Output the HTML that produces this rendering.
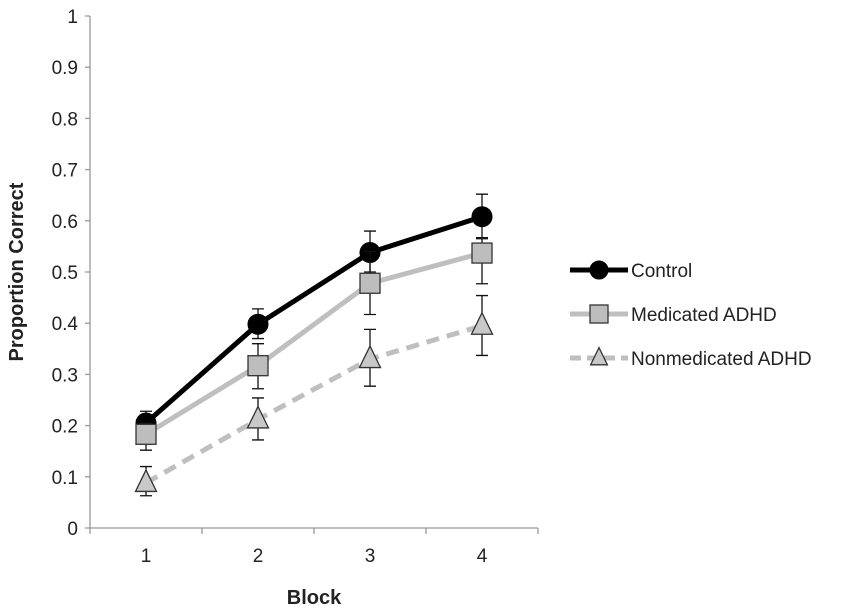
<!DOCTYPE html>
<html><head><meta charset="utf-8"><style>
body{margin:0;background:#fff;}
svg{display:block;font-family:"Liberation Sans",sans-serif;}
</style></head><body>
<svg id="chart" width="851" height="611"></svg>
<script>
const categories=["1","2","3","4"];
const yTicks=[0,0.1,0.2,0.3,0.4,0.5,0.6,0.7,0.8,0.9,1];
const yTickLabels=["0","0.1","0.2","0.3","0.4","0.5","0.6","0.7","0.8","0.9","1"];
const controlVals=[0.205,0.398,0.538,0.608];
const controlHi=[0.228,0.428,0.580,0.652];
const controlLo=[0.190,0.370,0.500,0.565];
const medVals=[0.183,0.317,0.478,0.537];
const medHi=[0.205,0.360,0.540,0.567];
const medLo=[0.152,0.272,0.417,0.477];
const nonVals=[0.088,0.212,0.330,0.395];
const nonHi=[0.120,0.254,0.388,0.454];
const nonLo=[0.063,0.172,0.277,0.337];
const seriesNames=["Control","Medicated ADHD","Nonmedicated ADHD"];

const NS="http://www.w3.org/2000/svg";
const svg=document.getElementById('chart');
const x0=90,x1=538,yB=528,yT=16;
const band=(x1-x0)/categories.length;
const xs=i=>x0+band*(i+0.5);
const ys=v=>yB-(yB-yT)*v;
function mk(tag,attrs,parent){const e=document.createElementNS(NS,tag);for(const k in attrs)e.setAttribute(k,attrs[k]);(parent||svg).appendChild(e);return e;}

let yAxis=mk('line',{x1:x0,y1:yT,x2:x0,y2:yB,stroke:'#999','stroke-width':1.3});


let xAxis=mk('line',{x1:x0,y1:yB,x2:x1,y2:yB,stroke:'#999','stroke-width':1.3});


yTicks.forEach((t,i)=>{
  const tk=mk('line',{x1:x0-5,y1:ys(t),x2:x0,y2:ys(t),stroke:'#999','stroke-width':1.3});
  
  
  const tx=mk('text',{x:x0-12,y:ys(t)+7,'text-anchor':'end','font-size':19,fill:'#222'});
  tx.textContent=yTickLabels[i];
  
  
});
for(let i=0;i<=categories.length;i++){
  const tk=mk('line',{x1:x0+band*i,y1:yB,x2:x0+band*i,y2:yB+6,stroke:'#999','stroke-width':1.3});
  
  
}
categories.forEach((c,i)=>{
  const tx=mk('text',{x:xs(i),y:yB+34,'text-anchor':'middle','font-size':19,fill:'#222'});
  tx.textContent=c;
  
  
});
let xt=mk('text',{x:314,y:604,'text-anchor':'middle','font-size':20,'font-weight':'bold',fill:'#222'});
xt.textContent='Block';


let yt=mk('text',{x:0,y:0,'text-anchor':'middle','font-size':20,'font-weight':'bold',fill:'#222',transform:'translate(23,272) rotate(-90)'});
yt.textContent='Proportion Correct';



function marker(g,type,cx,cy,s){
  if(type==='circle')return mk('circle',{cx:cx,cy:cy,r:s,fill:'#000',stroke:'#000'},g);
  if(type==='square')return mk('rect',{x:cx-s,y:cy-s,width:2*s,height:2*s,fill:'#bdbdbd',stroke:'#333','stroke-width':1.3},g);
  return mk('polygon',{points:`${cx},${cy-s*1.3} ${cx-s*1.05},${cy+s*0.85} ${cx+s*1.05},${cy+s*0.85}`,fill:'#c8c8c8',stroke:'#333','stroke-width':1.3},g);
}
const series=[
 {vals:controlVals,hi:controlHi,lo:controlLo,color:'#000',dash:'',type:'circle',size:10,name:'control'},
 {vals:medVals,hi:medHi,lo:medLo,color:'#bfbfbf',dash:'',type:'square',size:10,name:'medicated'},
 {vals:nonVals,hi:nonHi,lo:nonLo,color:'#bfbfbf',dash:'13,8',type:'tri',size:10,name:'nonmedicated'}
];
series.forEach((s,si)=>{
  const g=mk('g',{});
  
  
  const ln=mk('polyline',{points:s.vals.map((v,i)=>xs(i)+','+ys(v)).join(' '),fill:'none',stroke:s.color,'stroke-width':5,'stroke-dasharray':s.dash},g);
  
  
  s.vals.forEach((v,i)=>{
    const cx=xs(i);
    const eb=mk('path',{d:`M${cx},${ys(s.hi[i])}V${ys(s.lo[i])}M${cx-6},${ys(s.hi[i])}H${cx+6}M${cx-6},${ys(s.lo[i])}H${cx+6}`,stroke:'#111','stroke-width':1.3,fill:'none'},g);
    
    
  });
  s.vals.forEach((v,i)=>{
    const m=marker(g,s.type,xs(i),ys(v),s.size);
    
    
  });
  const ly=270+si*44;
  const lg=mk('g',{});
  
  
  mk('line',{x1:570,y1:ly,x2:628,y2:ly,stroke:s.color,'stroke-width':5,'stroke-dasharray':s.dash?'11,6':''},lg);
  marker(lg,s.type,599,ly,s.type==='tri'?8:9);
  const lt=mk('text',{x:631,y:ly+7,'font-size':19,fill:'#222'},lg);
  lt.textContent=seriesNames[si];
});
</script>
</body></html>
